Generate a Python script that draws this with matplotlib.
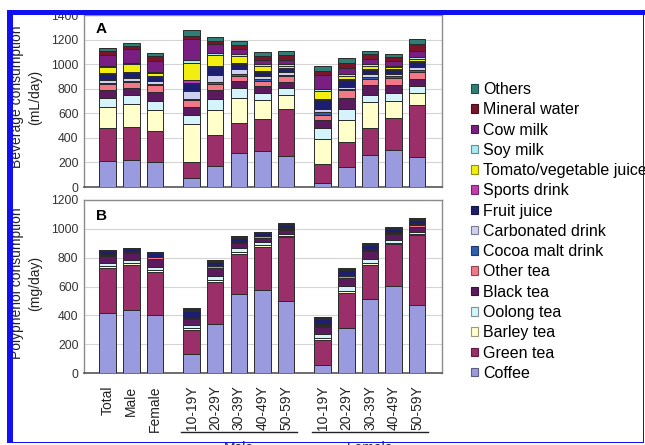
import matplotlib
matplotlib.use("Agg")
import matplotlib.pyplot as plt
import matplotlib.transforms as mtransforms
from matplotlib.patches import Patch, Rectangle
import numpy as np

plt.rcParams['font.family'] = ['Liberation Sans', 'DejaVu Sans']

# ---- categories -------------------------------------------------------------
groups = ["Total", "Male", "Female",
          "10-19Y", "20-29Y", "30-39Y", "40-49Y", "50-59Y",
          "10-19Y", "20-29Y", "30-39Y", "40-49Y", "50-59Y"]
sex_labels = ["Male", "Female"]

beverages = ["Coffee", "Green tea", "Barley tea", "Oolong tea", "Black tea",
             "Other tea", "Cocoa malt drink", "Carbonated drink", "Fruit juice",
             "Sports drink", "Tomato/vegetable juice", "Soy milk", "Cow milk",
             "Mineral water", "Others"]

colors = ["#9a9ade", "#9b2f6a", "#ffffcc", "#d4f3fa", "#5c1a5e",
          "#f27888", "#2f5fb0", "#cfcff0", "#1e1e70",
          "#c43cb0", "#f2ee12", "#a8eaf2", "#7a1f82",
          "#7a1428", "#2f7f76"]

# ---- A: beverage consumption (mL/day) --------------------------------------
ml_coffee     = [210, 218, 205,  70, 170, 275, 290, 250,  30, 160, 260, 300, 245]
ml_green_tea  = [267, 273, 253, 135, 255, 250, 265, 385, 158, 210, 218, 260, 420]
ml_barley     = [172, 183, 169, 305, 200, 200, 150, 110, 200, 177, 210, 140, 100]
ml_oolong     = [ 79,  76,  77,  75,  92,  82,  60,  60,  90,  87,  63,  62,  55]
ml_black_tea  = [ 62,  55,  73,  65,  75,  54,  55,  50,  68,  90,  80,  70,  60]
ml_other_tea  = [ 45,  46,  55,  55,  45,  42,  45,  45,  42,  62,  50,  55,  60]
ml_cocoa      = [ 10,   8,   8,  15,  15,  13,  15,  15,  25,  12,  15,  15,  15]
ml_carbonated = [ 30,  30,  20,  65,  60,  45,  22,  20,  25,  20,  20,  20,  25]
ml_fruit      = [ 45,  40,  35,  65,  65,  42,  38,  25,  70,  50,  35,  30,  35]
ml_sports     = [  5,   5,   5,  20,   8,   8,   8,   8,   8,   8,   8,   8,   8]
ml_tomato     = [ 50,  68,  25, 140,  90,  58,  40,  20,  65,  30,  28,  15,  20]
ml_soy        = [  8,   8,  10,  20,  15,  10,  10,  12,  15,  15,  12,  12,  15]
ml_cow        = [ 95, 110,  90, 175,  75,  45,  35,  30, 115,  50,  40,  35,  50]
ml_mineral    = [ 30,  30,  40,  25,  25,  30,  35,  45,  35,  40,  40,  35,  55]
ml_others     = [ 25,  20,  25,  50,  30,  32,  27,  28,  35,  38,  28,  25,  38]

# ---- B: polyphenol consumption (mg/day) ------------------------------------
mg_coffee     = [418, 437, 400, 135, 338, 545, 575, 500,  58, 313, 510, 602, 470]
mg_green_tea  = [310, 313, 300, 160, 290, 282, 298, 440, 168, 240, 240, 290, 485]
mg_barley     = [ 12,  12,  12,  15,  15,  12,  12,   8,  15,  15,  15,  10,   8]
mg_oolong     = [ 22,  22,  20,  22,  32,  25,  22,  18,  30,  38,  28,  22,  18]
mg_black_tea  = [ 50,  45,  62,  40,  55,  40,  32,  25,  50,  55,  50,  40,  35]
mg_other_tea  = [  8,   8,   8,  10,  10,   8,   8,  10,   8,  12,  12,  10,  12]
mg_cocoa      = [  4,   4,   4,   6,   5,   4,   4,   4,   6,   5,   5,   4,   5]
mg_carbonated = [  2,   2,   2,   3,   2,   2,   2,   2,   3,   3,   2,   2,   2]
mg_fruit      = [ 18,  18,  21,  41,  25,  20,  18,  20,  36,  31,  25,  20,  28]
mg_sports     = [  0,   0,   0,   0,   0,   0,   0,   0,   0,   0,   0,   0,   0]
mg_tomato     = [  4,   3,   4,   8,   5,   4,   3,   4,   6,   4,   5,   4,   5]
mg_soy        = [  4,   3,   5,   5,   4,   5,   4,   5,   5,   5,   5,   5,   6]
mg_cow        = [  0,   0,   0,   0,   0,   0,   0,   0,   0,   0,   0,   0,   0]
mg_mineral    = [  0,   0,   0,   0,   0,   0,   0,   0,   0,   0,   0,   0,   0]
mg_others     = [  3,   3,   3,   5,   4,   3,   3,   3,   5,   4,   3,   3,   4]

volume = [ml_coffee, ml_green_tea, ml_barley, ml_oolong, ml_black_tea,
          ml_other_tea, ml_cocoa, ml_carbonated, ml_fruit, ml_sports,
          ml_tomato, ml_soy, ml_cow, ml_mineral, ml_others]
polyphenol = [mg_coffee, mg_green_tea, mg_barley, mg_oolong, mg_black_tea,
              mg_other_tea, mg_cocoa, mg_carbonated, mg_fruit, mg_sports,
              mg_tomato, mg_soy, mg_cow, mg_mineral, mg_others]

# bar positions: three blocks (overall, male by age, female by age)
x = np.array([0, 1, 2] + [3.55 + i for i in range(5)] + [9.1 + i for i in range(5)])
bar_w = 0.70

W, H = 645, 445
fig = plt.figure(figsize=(W / 100, H / 100), dpi=100)

def fx(px):
    return px / W

def fy(py):
    return 1 - py / H

ax_a = fig.add_axes([fx(84), fy(187), fx(442 - 84), (187 - 15) / H])
ax_b = fig.add_axes([fx(84), fy(373), fx(442 - 84), (373 - 200) / H])


def stack(ax, series):
    bottom = np.zeros(len(x))
    for vals, col in zip(series, colors):
        v = np.asarray(vals, dtype=float)
        ax.bar(x, v, bar_w, bottom=bottom, color=col, edgecolor="#2a2a2a",
               linewidth=0.7, zorder=3)
        bottom += v


stack(ax_a, volume)
stack(ax_b, polyphenol)

for ax, top, step in ((ax_a, 1400, 200), (ax_b, 1200, 200)):
    ax.set_xlim(-1.0, 14.15)
    ax.set_ylim(0, top)
    ax.set_yticks(np.arange(0, top + 1, step))
    ax.yaxis.grid(True, color="#d4d4d4", linewidth=0.8, zorder=0)
    ax.set_axisbelow(True)
    ax.tick_params(axis="y", length=0, pad=4, labelsize=8.8, labelcolor="#333333")
    for s in ("top", "right", "left"):
        ax.spines[s].set_color("#8c8c8c")
        ax.spines[s].set_linewidth(1.0)
    ax.spines["bottom"].set_color("#555555")
    ax.spines["bottom"].set_linewidth(1.2)

ax_a.set_xticks([])
ax_b.set_xticks(x)
ax_b.set_xticklabels(groups, rotation=90, fontsize=10, color="#222222")
ax_b.tick_params(axis="x", length=0, pad=9)

ax_a.text(0.033, 0.92, "A", transform=ax_a.transAxes, fontsize=11,
          fontweight="bold", ha="left", va="center")
ax_b.text(0.033, 0.905, "B", transform=ax_b.transAxes, fontsize=11,
          fontweight="bold", ha="left", va="center")

fig.text(fx(26), fy(97), "Beverage consumption\n(mL/day)", rotation=90,
         ha="center", va="center", fontsize=10, linespacing=1.35, color="#222222")
fig.text(fx(26), fy(283), "Polyphenol consumption\n(mg/day)", rotation=90,
         ha="center", va="center", fontsize=10, linespacing=1.35, color="#222222")

# group brackets under the age bars
blend = mtransforms.blended_transform_factory(ax_b.transData, fig.transFigure)
for name, idx in ((sex_labels[0], slice(3, 8)), (sex_labels[1], slice(8, 13))):
    xs = x[idx]
    ax_b.plot([xs[0] - 0.45, xs[-1] + 0.45], [fy(432), fy(432)], color="#222222",
              linewidth=1.0, transform=blend, clip_on=False)
    ax_b.text((xs[0] + xs[-1]) / 2, fy(441), name, transform=blend, ha="center",
              va="top", fontsize=10, color="#222222", clip_on=False)

# legend, newest drink on top
def darker(c, f=0.6):
    r, g, b = matplotlib.colors.to_rgb(c)
    return (r * f, g * f, b * f)

handles = [Patch(facecolor=c, edgecolor=darker(c), linewidth=0.8, label=n)
           for n, c in zip(beverages, colors)][::-1]
fig.legend(handles=handles, loc="upper left", bbox_to_anchor=(fx(471), fy(82)),
           frameon=False, fontsize=11.5, handlelength=0.45, handleheight=0.45,
           handletextpad=0.3, labelspacing=0.33, borderpad=0, borderaxespad=0)

# blue frame
blue = "#1010f0"
for (x0, y0, x1, y1) in ((7, 9.5, 645, 15), (7, 9.5, 12.5, 443),
                         (642.5, 9.5, 644, 443), (7, 441.5, 644, 443)):
    fig.add_artist(Rectangle((fx(x0), fy(y1)), fx(x1 - x0), (y1 - y0) / H,
                             transform=fig.transFigure, facecolor=blue,
                             edgecolor="none", zorder=20))

fig.savefig("out.png", dpi=100)
